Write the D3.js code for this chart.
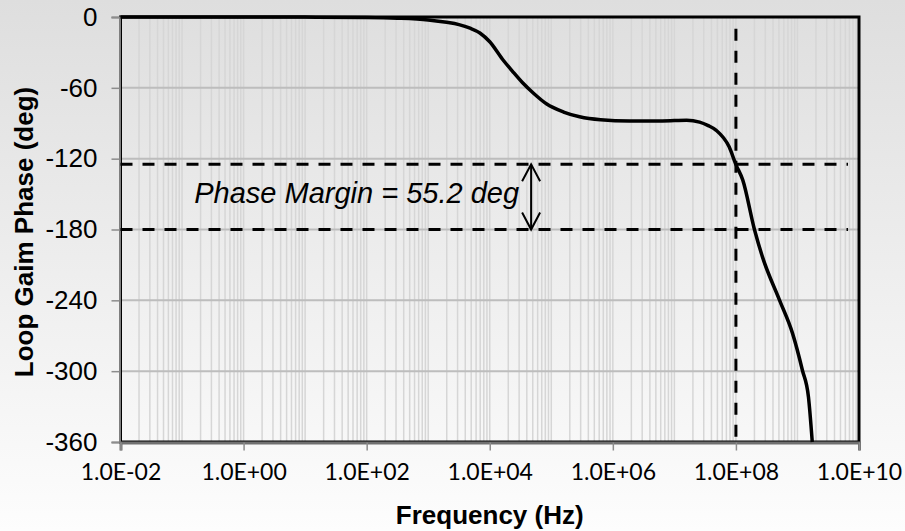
<!DOCTYPE html>
<html>
<head>
<meta charset="utf-8">
<script src="https://cdn.jsdelivr.net/npm/d3@7"></script>
<style>
  html, body { margin: 0; padding: 0; }
  body { width: 905px; height: 531px; overflow: hidden; }
</style>
</head>
<body>
<svg id="chart" width="905" height="531"></svg>
<script>
// frequency (Hz) and loop gain phase (deg)
var freq  = [1e-2, 1, 10, 100, 316, 1000, 1995, 3162, 4786, 6918, 1e4, 16218,
             23442, 33884, 52481, 83176, 158489, 288403, 630957, 1.86e6, 6.31e6,
             1.58e7, 2.57e7, 3.55e7, 4.79e7, 7.76e7, 1e8, 1.29e8, 2e8, 2.69e8,
             5.13e8, 8.32e8, 1.2e9, 1.51e9, 1.74e9];
var phase = [0, 0, -0.1, -0.4, -1, -2.5, -4.5, -6.5, -9.5, -13.5, -21, -36,
             -46, -55.5, -65, -73.5, -80.5, -84.5, -87, -88, -88,
             -87.5, -89, -92, -96, -110, -125, -138, -180, -203,
             -240, -268, -299, -322, -360];

var xTicks = [1e-2, 1e0, 1e2, 1e4, 1e6, 1e8, 1e10];
var yTicks = [0, -60, -120, -180, -240, -300, -360];

var crossover = 1e8;       // unity gain frequency
var phaseMargin = 55.2;    // deg
var label = "Phase Margin = " + phaseMargin + " deg";
var arrowFreq = 4.7e4;

var W = 905, H = 531;
var m = {left: 120.5, right: 46, top: 17, bottom: 89};

var svg = d3.select('#chart');

var defs = svg.append('defs');
var grad = defs.append('linearGradient').attr('id', 'bg')
  .attr('x1', 0).attr('y1', 0).attr('x2', 0).attr('y2', 1);
grad.append('stop').attr('offset', '0%').attr('stop-color', '#dedede');
grad.append('stop').attr('offset', '100%').attr('stop-color', '#fdfdfd');
svg.append('rect').attr('width', W).attr('height', H).attr('fill', 'url(#bg)');

var x = d3.scaleLog().domain([1e-2, 1e10]).range([m.left, W - m.right]);
var y = d3.scaleLinear().domain([0, -360]).range([m.top, H - m.bottom]);

// minor log gridlines
var minor = [];
for (var d = -2; d < 10; d++) {
  for (var k = 1; k < 10; k++) minor.push(k * Math.pow(10, d));
}
svg.append('g').selectAll('line').data(minor).join('line')
  .attr('x1', function(v) { return x(v); }).attr('x2', function(v) { return x(v); })
  .attr('y1', y(0)).attr('y2', y(-360))
  .attr('stroke', '#d6d6d6').attr('stroke-width', 1.5);

// horizontal gridlines
svg.append('g').selectAll('line').data(yTicks.slice(1, -1)).join('line')
  .attr('x1', x(1e-2)).attr('x2', x(1e10))
  .attr('y1', function(v) { return y(v); }).attr('y2', function(v) { return y(v); })
  .attr('stroke', '#bdbdbd').attr('stroke-width', 2);

// plot border
svg.append('rect')
  .attr('x', x(1e-2)).attr('y', y(0))
  .attr('width', x(1e10) - x(1e-2)).attr('height', y(-360) - y(0))
  .attr('fill', 'none').attr('stroke', '#000').attr('stroke-width', 3);

// axes
var yAxis = d3.axisLeft(y).tickValues(yTicks).tickSize(8).tickPadding(14)
  .tickFormat(function(v) { return String(v); });
var gy = svg.append('g').attr('transform', 'translate(' + (x(1e-2) - 1) + ',0)').call(yAxis);
gy.select('.domain').attr('stroke', '#7f7f7f').attr('stroke-width', 2);
gy.selectAll('.tick line').attr('stroke', '#8c8c8c').attr('stroke-width', 1.5);
gy.selectAll('.tick text')
  .attr('font-family', '"Liberation Sans", Arial, sans-serif')
  .attr('font-size', 26).attr('fill', '#000');

var xAxis = d3.axisBottom(x).tickValues(xTicks).tickSize(8).tickPadding(13)
  .tickFormat(function(v) {
    var e = Math.round(Math.log10(v));
    return '1.0E' + (e < 0 ? '-' : '+') + d3.format('02d')(Math.abs(e));
  });
var gx = svg.append('g').attr('transform', 'translate(0,' + (y(-360) + 0.5) + ')').call(xAxis);
gx.select('.domain').attr('stroke', '#707070').attr('stroke-width', 3);
gx.selectAll('.tick line').attr('stroke', '#8c8c8c').attr('stroke-width', 1.5);
gx.selectAll('.tick text')
  .attr('font-family', 'Lato, "Open Sans", sans-serif')
  .attr('font-size', 23).attr('fill', '#000');

// reference lines
var dash = '12,10';
var xEnd = x(1e10) - 11;
svg.append('line')
  .attr('x1', x(1e-2)).attr('x2', xEnd)
  .attr('y1', y(-180 + phaseMargin)).attr('y2', y(-180 + phaseMargin))
  .attr('stroke', '#000').attr('stroke-width', 3).attr('stroke-dasharray', dash);
svg.append('line')
  .attr('x1', x(1e-2)).attr('x2', xEnd)
  .attr('y1', y(-180)).attr('y2', y(-180))
  .attr('stroke', '#000').attr('stroke-width', 3).attr('stroke-dasharray', dash);
svg.append('line')
  .attr('x1', x(crossover)).attr('x2', x(crossover))
  .attr('y1', y(-10)).attr('y2', y(-360))
  .attr('stroke', '#000').attr('stroke-width', 3).attr('stroke-dasharray', dash);

// phase curve
var line = d3.line()
  .x(function(i) { return x(freq[i]); })
  .y(function(i) { return y(phase[i]); })
  .curve(d3.curveMonotoneX);
svg.append('path').datum(d3.range(freq.length))
  .attr('d', line)
  .attr('fill', 'none').attr('stroke', '#000').attr('stroke-width', 3.5)
  .attr('stroke-linejoin', 'round');

// double arrow for phase margin
var ax = x(arrowFreq), aTop = y(-180 + phaseMargin), aBot = y(-180);
var arrow = svg.append('g').attr('stroke', '#000').attr('stroke-width', 2).attr('fill', 'none');
arrow.append('line').attr('x1', ax).attr('x2', ax).attr('y1', aTop).attr('y2', aBot);
arrow.append('path').attr('d', 'M' + (ax - 9) + ',' + (aTop + 17) + 'L' + ax + ',' + aTop + 'L' + (ax + 9) + ',' + (aTop + 17));
arrow.append('path').attr('d', 'M' + (ax - 9) + ',' + (aBot - 17) + 'L' + ax + ',' + aBot + 'L' + (ax + 9) + ',' + (aBot - 17));

svg.append('text')
  .attr('x', ax - 12).attr('y', 203)
  .attr('text-anchor', 'end')
  .attr('font-family', '"Liberation Sans", Arial, sans-serif')
  .attr('font-style', 'italic').attr('font-size', 29)
  .text(label);

// axis titles
svg.append('text')
  .attr('x', (x(1e-2) + x(1e10)) / 2).attr('y', 524)
  .attr('text-anchor', 'middle')
  .attr('font-family', '"Liberation Sans", Arial, sans-serif')
  .attr('font-weight', 'bold').attr('font-size', 26)
  .text('Frequency (Hz)');
svg.append('text')
  .attr('transform', 'translate(33,232)rotate(-90)')
  .attr('text-anchor', 'middle')
  .attr('font-family', '"Liberation Sans", Arial, sans-serif')
  .attr('font-weight', 'bold').attr('font-size', 26)
  .text('Loop Gaim Phase (deg)');
</script>
</body>
</html>
